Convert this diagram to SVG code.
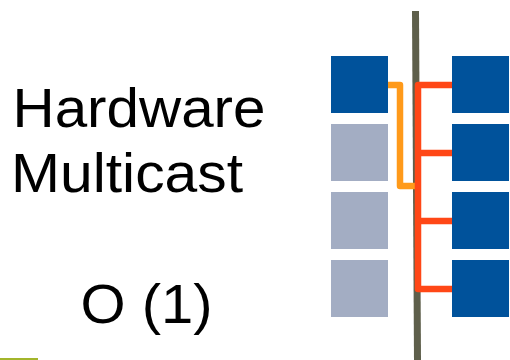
<svg xmlns="http://www.w3.org/2000/svg" width="510" height="360" viewBox="0 0 510 360">
  <style>
    .lbl { font-family: "Liberation Sans", Arial, sans-serif; font-size: 56px; fill: #000; }
    .dark { fill: #00529b; }
    .light { fill: #a3adc3; }
    .wire { fill: none; stroke-width: 6.5; stroke-linejoin: round; stroke-linecap: butt; }
  </style>
  <rect width="510" height="360" fill="#ffffff"/>
  <g id="title">
    <text class="lbl" x="12.5" y="127" textLength="253" lengthAdjust="spacingAndGlyphs">Hardware</text>
    <text class="lbl" x="11" y="192" textLength="232" lengthAdjust="spacingAndGlyphs">Multicast</text>
    <text class="lbl" x="80.5" y="322.5" textLength="132" lengthAdjust="spacingAndGlyphs">O (1)</text>
  </g>
  <g id="bus">
    <line x1="415.5" y1="11" x2="417.5" y2="360" stroke="#5e5f4b" stroke-width="7"/>
  </g>
  <g id="left-nodes">
    <rect id="l1" class="dark" x="331" y="56" width="57" height="57"/>
    <rect id="l2" class="light" x="331" y="124" width="57" height="57"/>
    <rect id="l3" class="light" x="331" y="192" width="57" height="57"/>
    <rect id="l4" class="light" x="331" y="260" width="57" height="57"/>
  </g>
  <g id="right-nodes">
    <rect id="r1" class="dark" x="452" y="56" width="57" height="57"/>
    <rect id="r2" class="dark" x="452" y="124" width="57" height="57"/>
    <rect id="r3" class="dark" x="452" y="192" width="57" height="57"/>
    <rect id="r4" class="dark" x="452" y="260" width="57" height="57"/>
  </g>
  <g id="connectors">
    <path class="wire" stroke="#ff9a1a" d="M388 85 H400 V186 H416"/>
    <path class="wire" stroke="#ff4716" d="M452 85 H418 V289 H452"/>
    <path class="wire" stroke="#ff4716" d="M418 153 H452 M418 221 H452"/>
  </g>
  <rect x="0" y="358" width="38" height="2" fill="#a3b52b"/>
</svg>
